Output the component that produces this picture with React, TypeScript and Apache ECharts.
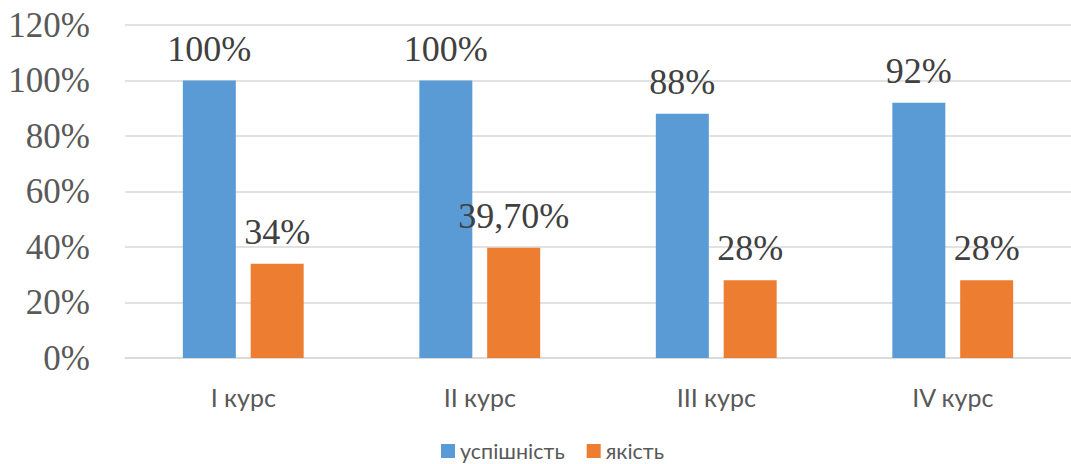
import React, { useEffect, useRef } from "react";
import * as echarts from "echarts";

const categories = ["I курс", "II курс", "III курс", "IV курс"];
const seriesNames = ["успішність", "якість"];
const successValues = [100, 100, 88, 92];
const qualityValues = [34, 39.7, 28, 28];
const successLabels = ["100%", "100%", "88%", "92%"];
const qualityLabels = ["34%", "39,70%", "28%", "28%"];
const yTicks = { min: 0, max: 120, interval: 20 };

export default function App() {
  const ref = useRef<HTMLDivElement>(null);
  useEffect(() => {
    if (!ref.current) return;
    const chart = echarts.init(ref.current, null, { renderer: "svg" });
    const labelStyle = {
      show: true,
      position: "top",
      distance: 14,
      fontFamily: "'Liberation Serif', 'Times New Roman', serif",
      fontSize: 36,
      color: "#404040",
    };
    chart.setOption({
      animation: false,
      backgroundColor: "#ffffff",
      textStyle: { fontFamily: "'Liberation Serif', serif" },
      grid: { left: 125, width: 953, top: 25, bottom: 106, containLabel: false },
      legend: {
        left: 436,
        top: 435,
        itemWidth: 14,
        itemHeight: 14,
        itemGap: 22,
        icon: "rect",
        textStyle: { fontFamily: "Lato", fontSize: 21.5, color: "#595959" },
        data: seriesNames,
      },
      xAxis: {
        type: "category",
        data: categories,
        axisLine: { show: true, lineStyle: { color: "#d9d9d9", width: 1.5 } },
        axisTick: { show: false },
        axisLabel: {
          margin: 26,
          fontFamily: "Lato",
          fontSize: 25,
          color: "#595959",
        },
      },
      yAxis: {
        type: "value",
        min: yTicks.min,
        max: yTicks.max,
        interval: yTicks.interval,
        axisLine: { show: false },
        axisTick: { show: false },
        splitLine: { lineStyle: { color: "#d9d9d9", width: 1.5 } },
        axisLabel: {
          formatter: "{value}%",
          margin: 35,
          fontFamily: "'Liberation Serif', serif",
          fontSize: 35,
          color: "#595959",
        },
      },
      series: [
        {
          name: seriesNames[0],
          type: "bar",
          data: successValues,
          barWidth: 53,
          barGap: "28%",
          itemStyle: { color: "#5B9BD5" },
          label: { ...labelStyle, formatter: (p: any) => successLabels[p.dataIndex] },
        },
        {
          name: seriesNames[1],
          type: "bar",
          data: qualityValues,
          barWidth: 53,
          barGap: "28%",
          itemStyle: { color: "#ED7D31" },
          label: { ...labelStyle, formatter: (p: any) => qualityLabels[p.dataIndex] },
        },
      ],
    });
    return () => chart.dispose();
  }, []);
  return (
    <div
      ref={ref}
      style={{ position: "absolute", left: 0, top: 0, width: 1071, height: 464 }}
    />
  );
}
